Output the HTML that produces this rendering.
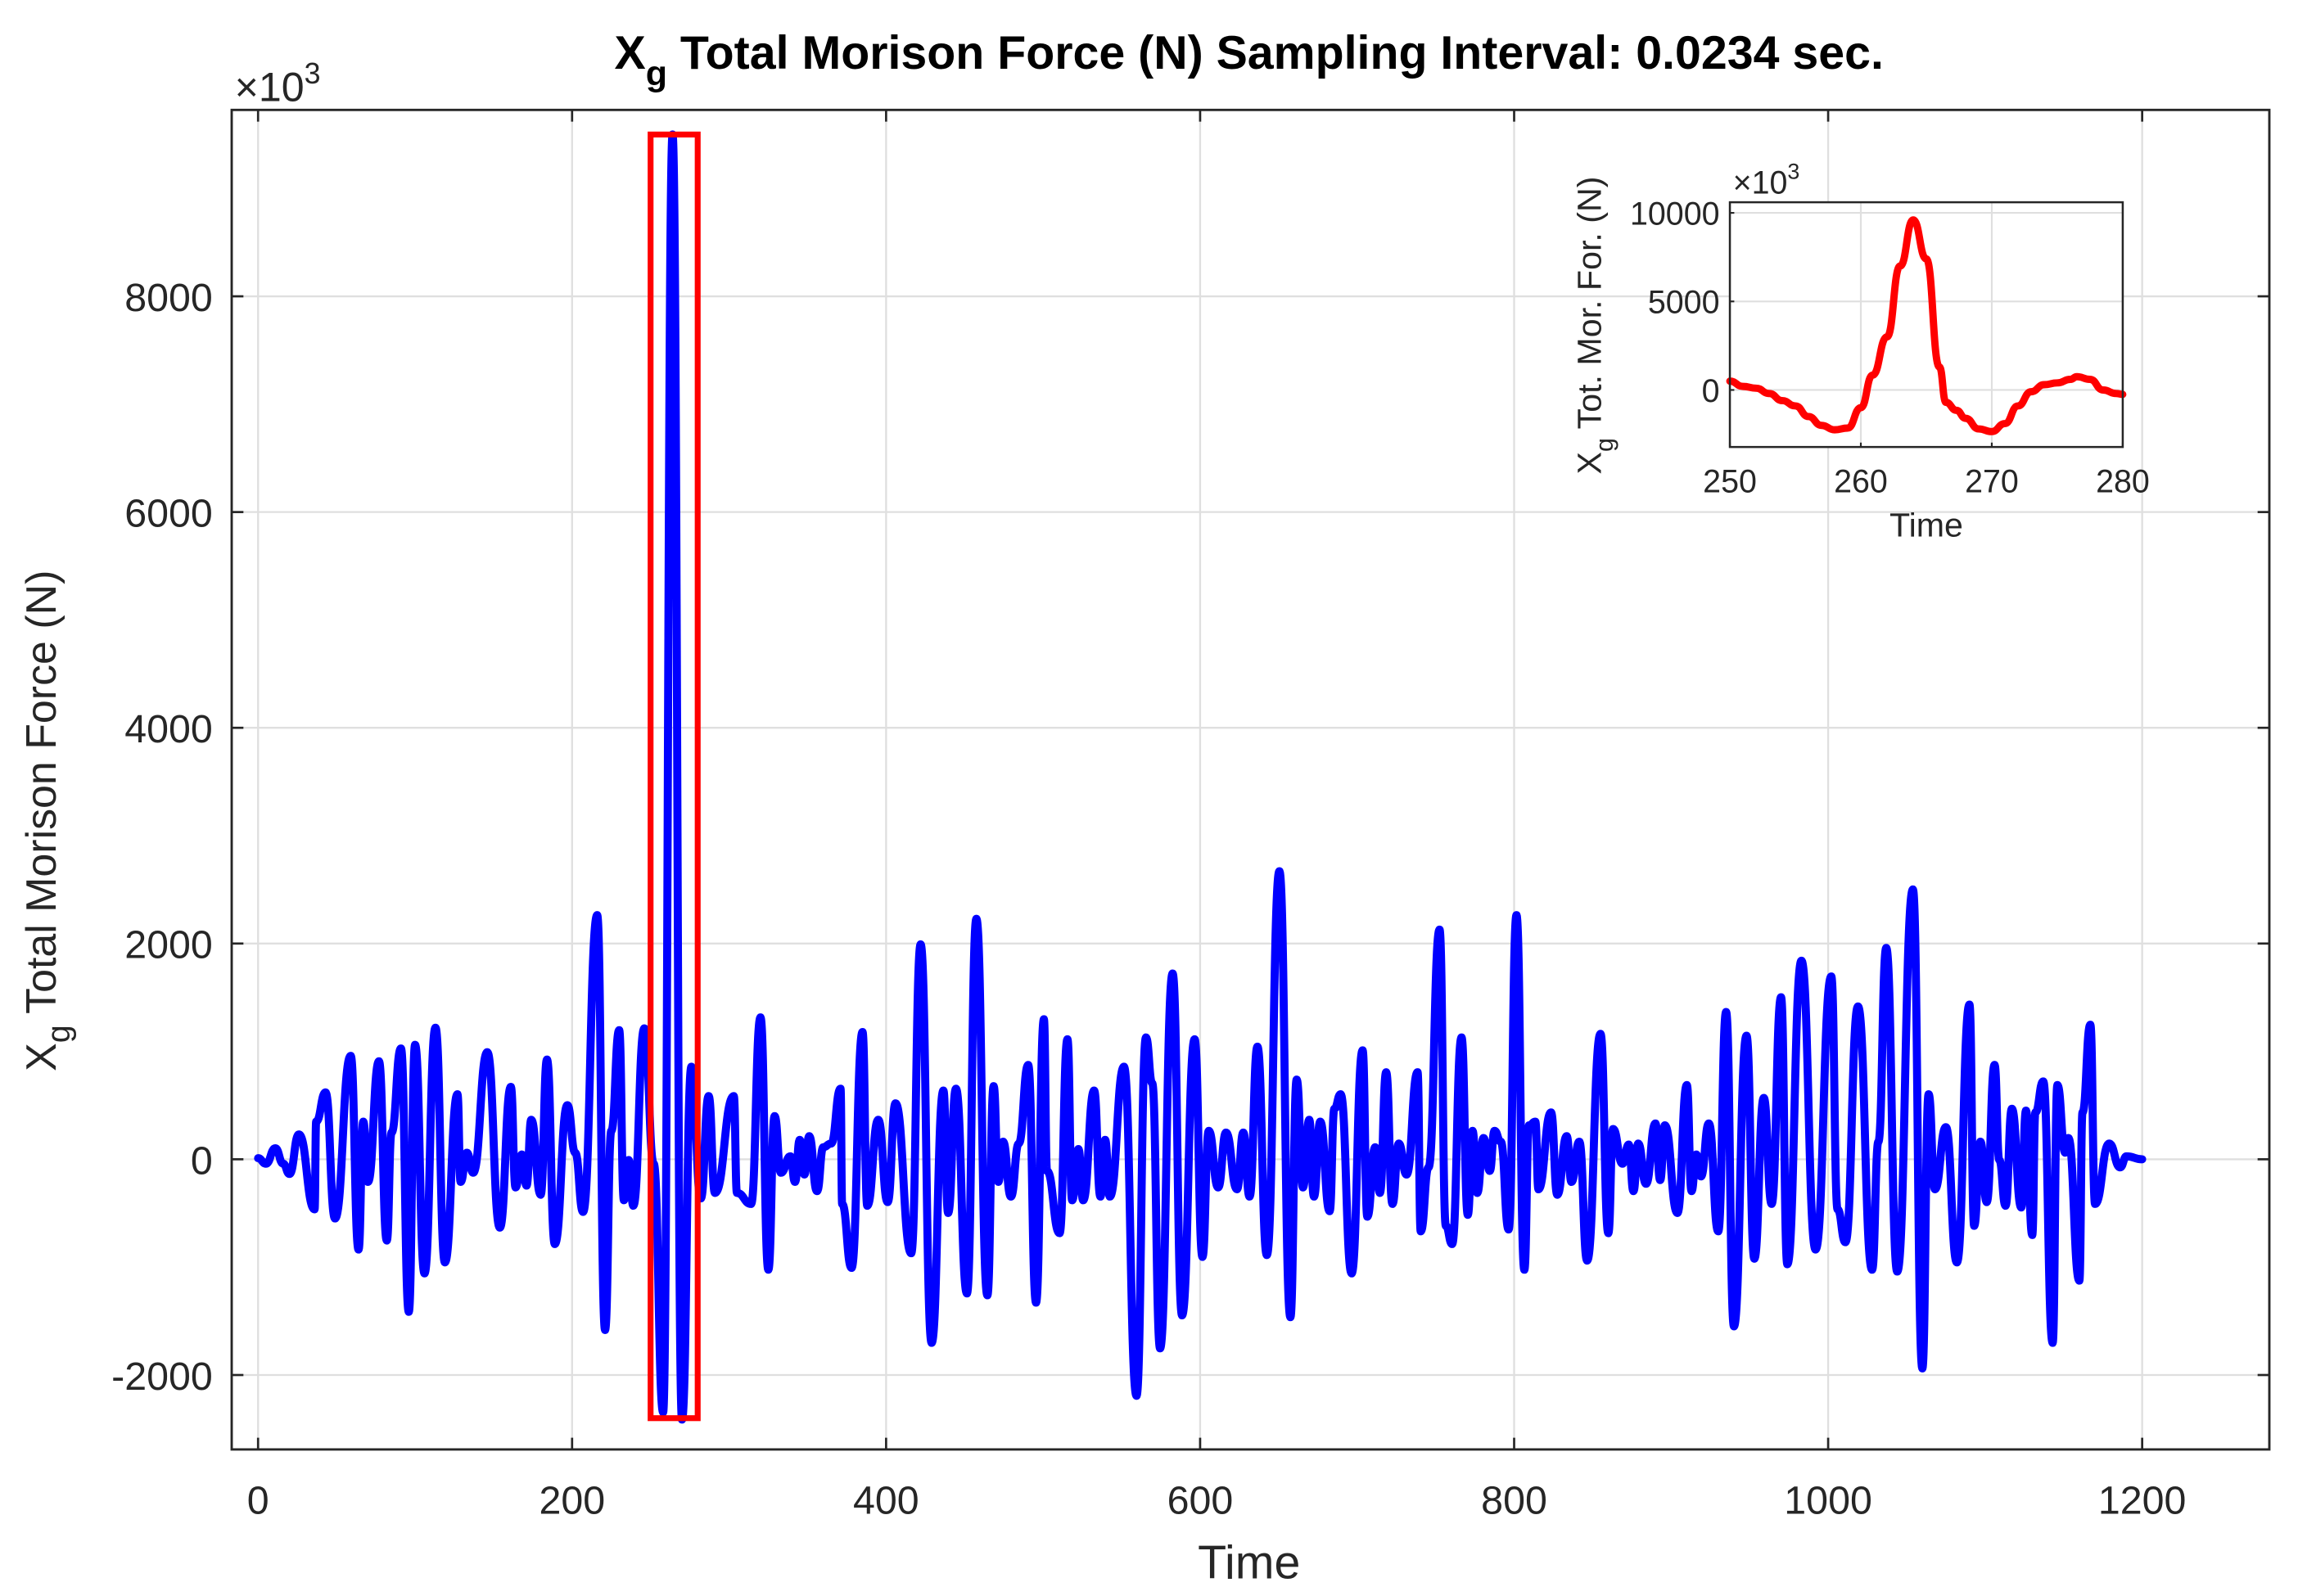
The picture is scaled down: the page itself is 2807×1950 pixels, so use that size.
<!DOCTYPE html>
<html><head><meta charset="utf-8"><style>
html,body{margin:0;padding:0;background:#fff;}
svg{display:block;font-family:"Liberation Sans",Arial,sans-serif;}
</style></head><body>
<svg id="chart" xmlns="http://www.w3.org/2000/svg" width="2807" height="1950" viewBox="0 0 1567.5 1089">
<rect x="0" y="0" width="1567.5" height="1089" fill="#fff"/>
<g id="main-grid"></g>
<g id="main-series"></g>
<g id="main-axes"></g>
<g id="inset"></g>
<text x="852" y="47" text-anchor="middle" font-size="32" font-weight="bold" fill="#000">X<tspan font-size="24" dy="11">g</tspan><tspan dy="-11"> Total Morison Force (N) Sampling Interval: 0.0234 sec.</tspan></text>
<text x="160" y="69" font-size="28" fill="#262626">×10<tspan font-size="20" dy="-12">3</tspan></text>
<text x="852" y="1077" text-anchor="middle" font-size="32" fill="#262626">Time</text>
<text transform="translate(38,560) rotate(-90)" text-anchor="middle" font-size="29" fill="#262626">X<tspan font-size="22" dy="9">g</tspan><tspan dy="-9"> Total Morison Force (N)</tspan></text>
</svg>
<script>
const mainTimes = [0,5,11,16,20,26,36,37,43,49,59,64,67,70,77,82,85,91,96,100,106,113,119,127,129,133,137,146,154,161,164,168,171,174,180,184,189,197,202,207,216,221,225,230,233,236,239,246,252,258,264,270,276,282,287,291,303,305,314,320,325,329,333,339,342,345,348,351,356,360,365,371,372,378,385,388,395,401,406,416,422,429,436.5,439.5,444.5,451.5,457.5,464.5,468.5,471.5,474.5,479.5,484.5,490.5,495.5,500.5,502.5,510.5,515.5,518.5,522.5,525.5,532.5,536.5,539.5,542.5,551.5,559.5,565.5,569.5,574.5,582.5,588.5,596.5,601.5,605.5,611.5,616.5,623.5,627.5,631.5,636.5,642.5,650.5,657.5,661.5,665.5,669.5,672.5,676.5,682.5,685.5,689.5,696.5,703.5,706.5,711.5,714.5,718.5,722.5,726.5,731.5,738.5,740.5,745.5,752.5,756.5,760.5,766.5,770.5,773.5,776.5,780.5,784.5,787.5,791.5,796.5,801.5,806.5,809.5,813.5,815.5,823.5,827.5,833.5,836.5,841.5,846.5,855,860,863,869,873,876,879,884,890,893,896,904,910,913,916,919,924,930,935,940,948,953,959,964,970,974,983,992,1002,1006,1011,1019,1028,1032,1037,1044,1054,1060,1064,1068,1075,1082,1090,1093,1097,1101,1106,1109,1113,1117,1123,1126,1130,1132,1137,1143,1146,1151,1153,1160,1162,1167,1170,1179,1186,1190,1200];
const mainForces = [10,-41,102,-41,-136,230,-464,349,620,-549,959,-837,349,-210,908,-753,247,1027,-1414,1061,-1058,1220,-956,603,-210,61,-125,993,-634,671,-261,44,-244,366,-329,925,-786,502,61,-488,2264,-1583,264,1197,-380,-7,-431,1214,-41,-2346,9500,-2413,858,-363,586,-312,586,-312,-414,1315,-1024,400,-125,27,-210,180,-142,214,-295,112,146,654,-414,-1007,1180,-431,366,-397,519,-871,1993,-1702,637,-498,654,-1244,2230,-1261,678,-210,163,-346,146,874,-1329,1298,-108,-685,1112,-380,95,-380,637,-346,180,-346,858,-2193,1129,705,-1753,1722,-1447,1112,-905,264,-261,247,-278,247,-346,1044,-888,2671,-1464,739,-261,366,-346,349,-481,468,603,-1058,1010,-532,112,-312,807,-414,146,-142,807,-668,-75,2129,-617,-786,1129,-515,264,-312,197,-108,264,163,-651,2264,-1024,315,349,-278,434,-329,214,-210,163,-939,1163,-685,281,-41,136,-295,146,-227,332,-193,315,-498,688,-295,44,-159,332,-668,1366,-1549,1146,-922,569,-414,1502,-973,1841,-837,1695,-464,-769,1417,-1024,163,1959,-1041,2502,-1939,603,-278,298,-956,1434,-617,163,-397,875,-7,-431,468,-447,451,-702,434,722,-1702,688,61,197,-1125,434,1247,-414,146,-75,27,0];
const xTicks = [0,200,400,600,800,1000,1200];
const yTicks = [-2000,0,2000,4000,6000,8000];
const zoomWindow = [250,280,-2400,9500];

const insetTimes = [250,251,252,253,254,255,256,257,258,259,260,260.9,262,263,264,265,266,266.5,267.3,268,269,270,271,272,273,274,275,276,276.5,277.5,278.5,279.5,280];
const insetForces = [500,200,100,-200,-600,-900,-1500,-2000,-2250,-2150,-1000,840,3000,7000,9600,7400,1300,-700,-1150,-1600,-2200,-2350,-1900,-900,-100,300,400,600,750,600,0,-200,-250];
const insetXTicks = [250,260,270,280];
const insetYTicks = [0,5000,10000];

const NS = "http://www.w3.org/2000/svg";
function mk(tag, attrs, parent){const e=document.createElementNS(NS,tag);for(const k in attrs)e.setAttribute(k,attrs[k]);parent.appendChild(e);return e;}

const L=158,R=1548,T=75,B=989;
const X0=-16.8,X1=1281,Y0=-2690,Y1=9728;
const sx=t=>L+(t-X0)/(X1-X0)*(R-L);
const sy=v=>B-(v-Y0)/(Y1-Y0)*(B-T);

const grid=document.getElementById('main-grid');
const axes=document.getElementById('main-axes');
xTicks.forEach(t=>{
  const g=mk('line',{x1:sx(t),x2:sx(t),y1:T,y2:B,stroke:'#dfdfdf','stroke-width':1.3},grid);
  
  
  const a=mk('line',{x1:sx(t),x2:sx(t),y1:B,y2:B-8,stroke:'#262626','stroke-width':1.5},axes);
  
  
  const b=mk('line',{x1:sx(t),x2:sx(t),y1:T,y2:T+8,stroke:'#262626','stroke-width':1.5},axes);
  
  
  const lb=mk('text',{x:sx(t),y:1033,'text-anchor':'middle','font-size':27,fill:'#262626'},axes);
  lb.textContent=t;
  
  
});
yTicks.forEach(v=>{
  const g=mk('line',{x1:L,x2:R,y1:sy(v),y2:sy(v),stroke:'#dfdfdf','stroke-width':1.3},grid);
  
  
  const a=mk('line',{x1:L,x2:L+8,y1:sy(v),y2:sy(v),stroke:'#262626','stroke-width':1.5},axes);
  
  
  const b=mk('line',{x1:R,x2:R-8,y1:sy(v),y2:sy(v),stroke:'#262626','stroke-width':1.5},axes);
  
  
  const lb=mk('text',{x:145,y:sy(v)+10,'text-anchor':'end','font-size':27,fill:'#262626'},axes);
  lb.textContent=v;
  
  
});
const frame=mk('rect',{x:L,y:T,width:R-L,height:B-T,fill:'none',stroke:'#262626','stroke-width':1.6},axes);



function smoothPath(ts,vs,fx,fy){
  let d='M'+fx(ts[0])+','+fy(vs[0]);
  for(let i=1;i<ts.length;i++){
    const x0=fx(ts[i-1]),y0=fy(vs[i-1]),x1=fx(ts[i]),y1=fy(vs[i]);
    const h=(x1-x0)/2;
    d+=' C'+(x0+h)+','+y0+' '+(x1-h)+','+y1+' '+x1+','+y1;
  }
  return d;
}
const series=document.getElementById('main-series');
const line=mk('path',{d:smoothPath(mainTimes,mainForces,sx,sy),fill:'none',stroke:'#0000ff','stroke-width':5.5,'stroke-linejoin':'round','stroke-linecap':'round'},series);


const zr=mk('rect',{x:sx(zoomWindow[0]),y:sy(zoomWindow[3]),width:sx(zoomWindow[1])-sx(zoomWindow[0]),height:sy(zoomWindow[2])-sy(zoomWindow[3]),fill:'none',stroke:'#ff0000','stroke-width':4},series);



const ins=document.getElementById('inset');
const iL=1180,iR=1448,iT=138,iB=305;
const iX0=250,iX1=280,iY0=-3220,iY1=10600;
const ix=t=>iL+(t-iX0)/(iX1-iX0)*(iR-iL);
const iy=v=>iB-(v-iY0)/(iY1-iY0)*(iB-iT);
const ibg=mk('rect',{x:iL,y:iT,width:iR-iL,height:iB-iT,fill:'#fff'},ins);


insetXTicks.forEach(t=>{
  const g=mk('line',{x1:ix(t),x2:ix(t),y1:iT,y2:iB,stroke:'#dfdfdf','stroke-width':1.2},ins);
  
  
  const a=mk('line',{x1:ix(t),x2:ix(t),y1:iB,y2:iB-3,stroke:'#262626','stroke-width':1.2},ins);
  
  
  const lb=mk('text',{x:ix(t),y:336,'text-anchor':'middle','font-size':22,fill:'#262626'},ins);
  lb.textContent=t;
  
  
});
insetYTicks.forEach(v=>{
  const g=mk('line',{x1:iL,x2:iR,y1:iy(v),y2:iy(v),stroke:'#dfdfdf','stroke-width':1.2},ins);
  
  
  const a=mk('line',{x1:iL,x2:iL+3,y1:iy(v),y2:iy(v),stroke:'#262626','stroke-width':1.2},ins);
  
  
  const lb=mk('text',{x:1173,y:iy(v)+8,'text-anchor':'end','font-size':22,fill:'#262626'},ins);
  lb.textContent=v;
  
  
});
const il=mk('path',{d:smoothPath(insetTimes,insetForces,ix,iy),fill:'none',stroke:'#ff0000','stroke-width':5,'stroke-linejoin':'round','stroke-linecap':'round'},ins);


const ifr=mk('rect',{x:iL,y:iT,width:iR-iL,height:iB-iT,fill:'none',stroke:'#262626','stroke-width':1.4},ins);


const iex=mk('text',{x:1182,y:132,'font-size':22,fill:'#262626'},ins);
iex.innerHTML='×10<tspan font-size="15" dy="-10">3</tspan>';


const ixl=mk('text',{x:1314,y:366,'text-anchor':'middle','font-size':23,fill:'#262626'},ins);
ixl.textContent='Time';


const iyl=mk('text',{transform:'translate(1092,222) rotate(-90)','text-anchor':'middle','font-size':23,fill:'#262626'},ins);
iyl.innerHTML='X<tspan font-size="17" dy="8">g</tspan><tspan dy="-8"> Tot. Mor. For. (N)</tspan>';


</script>
</body></html>
